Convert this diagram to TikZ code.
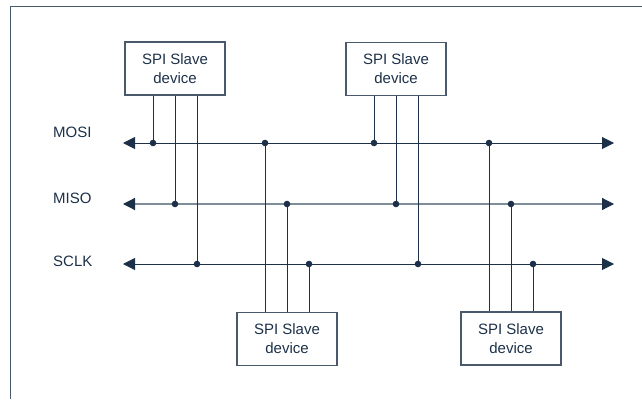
\documentclass[tikz,border=0pt]{standalone}
\usepackage{fontspec}
\setmainfont{Liberation Sans}
\usetikzlibrary{arrows.meta}

\definecolor{navy}{HTML}{1C3048}
\definecolor{busgray}{HTML}{7F8D9B}
\definecolor{framegray}{HTML}{4A5A6C}

\begin{document}
\begin{tikzpicture}[x=1pt,y=-1pt,
  dev/.style={draw=framegray,line width=1.1pt,minimum width=100pt,minimum height=53pt,
    inner sep=0pt,align=center,text=navy,font=\fontsize{15}{19}\selectfont},
  sig/.style={text=navy,font=\fontsize{15}{18}\selectfont,anchor=base west,inner sep=0pt},
  bus/.style={navy,line width=1pt,{Triangle[length=12pt,width=12pt,color=navy]}-{Triangle[length=12pt,width=12pt,color=navy]}},
  wire/.style={navy,line width=1pt},
  dot/.style={navy}]
\useasboundingbox (0,0) rectangle (642,399);

% frame (only top and left edge visible)
\draw[framegray,line width=1pt] (10,399) -- (10,6) -- (642,6);

% slave devices
\node[dev] (top1) at (175,68.5) {SPI Slave\\device};
\node[dev] (top2) at (396,69)   {SPI Slave\\device};
\node[dev] (bot1) at (287,339)  {SPI Slave\\device};
\node[dev] (bot2) at (511,338.5){SPI Slave\\device};

% bus labels
\node[sig] (mosi) at (53,137) {MOSI};
\node[sig] (miso) at (53,203) {MISO};
\node[sig] (sclk) at (53,266) {SCLK};

% bus lines
\coordinate (mosiL) at (123,143); \coordinate (mosiR) at (614,143);
\coordinate (misoL) at (123,204); \coordinate (misoR) at (614,204);
\coordinate (sclkL) at (123,264); \coordinate (sclkR) at (614,264);
\draw[bus] (mosiL) -- (mosiR);
\draw[bus,busgray,line width=1.2pt] (misoL) -- (misoR);
\draw[bus] (sclkL) -- (sclkR);

% taps from each device onto the three lines
\foreach \b/\side in {top1/south,top2/south,bot1/north,bot2/north}{
  \foreach \s/\k in {mosi/-22,miso/0,sclk/22}{
    \coordinate (\b-\s) at ([xshift=\k pt]\b.center |- \s L);
    \draw[wire] (\b-\s) -- ([xshift=\k pt]\b.\side);
    \fill[dot] (\b-\s) circle (3.3pt);
  }
}
\end{tikzpicture}
\end{document}
